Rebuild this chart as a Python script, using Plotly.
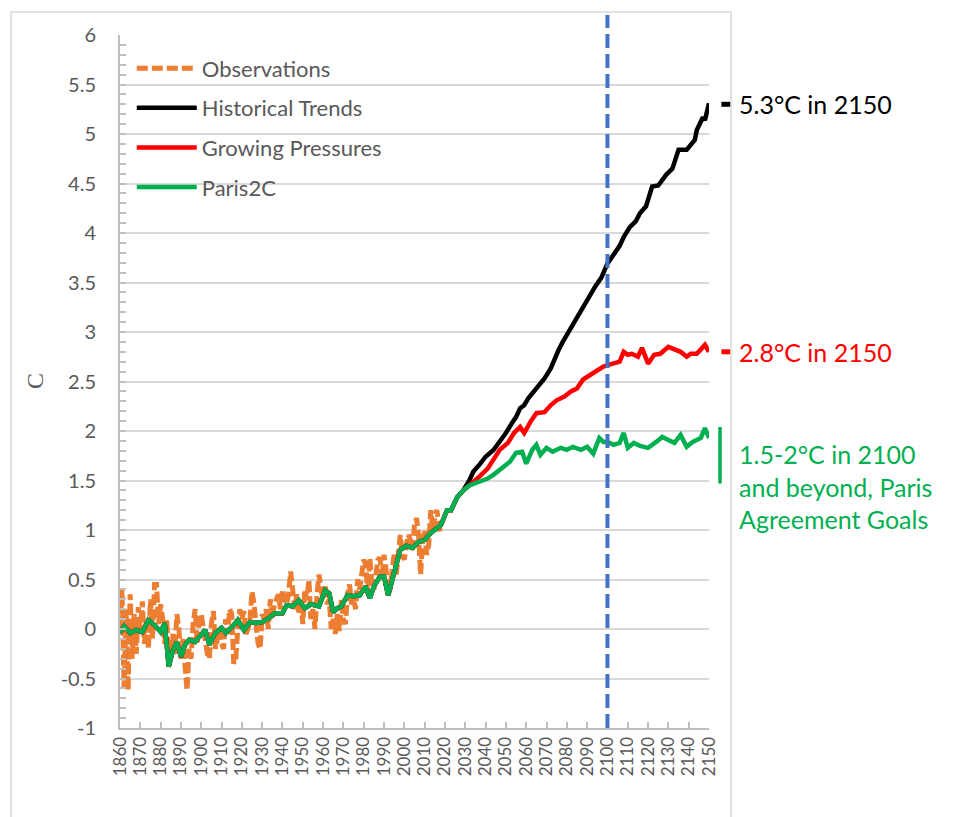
import plotly.graph_objects as go

# ---------------- data ----------------
obs_years = list(range(1860, 2019))
obs_vals = [
    0.00, 0.40, -0.60, 0.20, -0.62, 0.35, -0.30, 0.15, -0.25, 0.22,
    -0.05, 0.28, -0.15, 0.10, -0.20, 0.30, -0.10, 0.45, 0.45, 0.05,
    0.25, 0.10, -0.15, 0.10, -0.30, -0.20, -0.05, -0.25, 0.15, 0.00,
    -0.30, -0.10, -0.45, -0.62, -0.20, -0.30, 0.05, 0.20, -0.15, 0.10,
    0.15, 0.00, -0.10, -0.25, -0.30, 0.05, 0.18, -0.20, -0.10, 0.00,
    -0.15, -0.20, 0.10, -0.05, 0.20, 0.15, -0.35, -0.30, 0.00, 0.20,
    0.10, 0.18, -0.05, 0.00, 0.10, 0.38, 0.25, 0.05, -0.15, -0.20,
    0.15, 0.10, 0.20, 0.00, 0.30, 0.10, 0.25, 0.30, 0.35, 0.20,
    0.40, 0.30, 0.25, 0.35, 0.58, 0.40, 0.20, 0.35, 0.15, 0.30,
    0.05, 0.40, 0.30, 0.50, 0.10, 0.20, 0.00, 0.35, 0.55, 0.40,
    0.30, 0.45, 0.25, 0.30, 0.00, 0.10, -0.05, 0.15, -0.02, 0.30,
    0.10, 0.05, 0.35, 0.45, 0.25, 0.30, 0.20, 0.50, 0.40, 0.55,
    0.70, 0.65, 0.35, 0.72, 0.45, 0.40, 0.55, 0.70, 0.72, 0.50,
    0.75, 0.60, 0.35, 0.40, 0.60, 0.75, 0.55, 0.80, 0.95, 0.75,
    0.70, 0.85, 0.95, 0.90, 0.80, 1.05, 1.12, 0.95, 0.55, 0.90,
    1.00, 0.75, 0.85, 1.20, 1.00, 1.15, 1.20, 1.05, 0.95,
]

# shared simulated history (all scenarios identical up to ~2030)
hist_years = [1860, 1862, 1865, 1868, 1871, 1874, 1877, 1880, 1882, 1884,
              1886, 1888, 1890, 1892, 1894, 1897, 1899, 1902, 1904, 1907,
              1910, 1912, 1916, 1918, 1921, 1924, 1927, 1930, 1934, 1936,
              1940, 1942, 1945, 1948, 1951, 1954, 1958, 1961, 1963, 1965,
              1967, 1969, 1972, 1975, 1978, 1981, 1983, 1985, 1988, 1990,
              1992, 1995, 1998, 2001, 2004, 2007, 2010, 2013, 2015, 2018,
              2021, 2023, 2026, 2029]
hist_vals = [-0.04, 0.03, -0.04, -0.01, -0.03, 0.09, 0.04, -0.03, 0.06, -0.38,
             -0.22, -0.13, -0.28, -0.16, -0.11, -0.13, -0.08, -0.01, -0.16, -0.04,
             0.01, -0.04, 0.04, 0.09, -0.01, 0.07, 0.06, 0.07, 0.12, 0.16,
             0.16, 0.24, 0.23, 0.29, 0.21, 0.25, 0.23, 0.39, 0.36, 0.17,
             0.21, 0.23, 0.34, 0.33, 0.34, 0.43, 0.31, 0.43, 0.53, 0.53,
             0.34, 0.56, 0.80, 0.84, 0.82, 0.88, 0.90, 0.97, 1.00, 1.05,
             1.20, 1.20, 1.33, 1.40]

trend_years = [2032, 2034, 2037, 2040, 2044, 2047, 2050, 2053, 2055, 2057,
               2059, 2061, 2063, 2065, 2067, 2069, 2072, 2074, 2076, 2078,
               2080, 2082, 2084, 2086, 2088, 2090, 2092, 2094, 2097, 2100,
               2103, 2106, 2108, 2111, 2114, 2116, 2119, 2122, 2125, 2129,
               2132, 2135, 2139, 2143, 2144, 2147, 2148, 2150]
trend_vals = [1.50, 1.59, 1.66, 1.74, 1.81, 1.89, 1.98, 2.08, 2.14, 2.23,
              2.26, 2.33, 2.38, 2.43, 2.48, 2.53, 2.63, 2.74, 2.82, 2.90,
              2.97, 3.05, 3.13, 3.20, 3.26, 3.33, 3.40, 3.46, 3.55, 3.69,
              3.78, 3.87, 3.96, 4.06, 4.12, 4.20, 4.27, 4.47, 4.48, 4.59,
              4.65, 4.84, 4.84, 4.94, 5.04, 5.17, 5.14, 5.31]

growing_years = [2032, 2035, 2038, 2041, 2044, 2047, 2051, 2054, 2057, 2059,
                 2062, 2065, 2069, 2072, 2075, 2079, 2082, 2085, 2088, 2092,
                 2095, 2098, 2101, 2103, 2106, 2108, 2110, 2112, 2115, 2117,
                 2120, 2123, 2126, 2130, 2133, 2136, 2139, 2141, 2144, 2148,
                 2150]
growing_vals = [1.45, 1.50, 1.56, 1.62, 1.71, 1.81, 1.88, 1.98, 2.04, 1.98,
                2.09, 2.18, 2.19, 2.26, 2.31, 2.35, 2.40, 2.43, 2.52, 2.57,
                2.62, 2.65, 2.67, 2.68, 2.70, 2.80, 2.77, 2.78, 2.75, 2.84,
                2.68, 2.77, 2.78, 2.85, 2.82, 2.80, 2.75, 2.78, 2.78, 2.87,
                2.80]

paris_years = [2032, 2035, 2038, 2041, 2044, 2046, 2049, 2052, 2055, 2058,
               2060, 2063, 2065, 2067, 2070, 2073, 2077, 2080, 2083, 2087,
               2090, 2093, 2096, 2098, 2100, 2103, 2106, 2108, 2110, 2113,
               2116, 2120, 2124, 2127, 2130, 2133, 2136, 2139, 2142, 2146,
               2148, 2150]
paris_vals = [1.45, 1.47, 1.50, 1.52, 1.56, 1.59, 1.64, 1.69, 1.78, 1.79,
              1.67, 1.81, 1.86, 1.76, 1.83, 1.79, 1.83, 1.81, 1.84, 1.81,
              1.84, 1.77, 1.93, 1.89, 1.89, 1.86, 1.88, 1.98, 1.83, 1.88,
              1.85, 1.83, 1.89, 1.94, 1.91, 1.88, 1.96, 1.84, 1.89, 1.93,
              2.03, 1.93]

marker_year = 2100
end_trend = 5.3
end_growing = 2.8
paris_band = [1.47, 2.04]

x_ticks = list(range(1860, 2151, 10))
x_labels = [str(v) for v in x_ticks]
y_ticks = [-1, -0.5, 0, 0.5, 1, 1.5, 2, 2.5, 3, 3.5, 4, 4.5, 5, 5.5, 6]
y_labels = ["-1", "-0.5", "0", "0.5", "1", "1.5", "2", "2.5", "3", "3.5",
            "4", "4.5", "5", "5.5", "6"]

ORANGE = "#ED7D31"
BLACK = "#000000"
RED = "#FF0000"
GREEN = "#00B050"
BLUE = "#4472C4"
GRAY_TXT = "#595959"
AXIS = "#BFBFBF"
GRID = "#D9D9D9"
FONT = "Lato"

fig = go.Figure()
fig.add_trace(go.Scatter(x=obs_years, y=obs_vals, mode="lines", name="Observations",
                         legendgroup="a",
                         line=dict(color=ORANGE, width=5, dash="11px,4px")))
fig.add_trace(go.Scatter(x=hist_years + trend_years, y=hist_vals + trend_vals,
                         mode="lines", name="Historical Trends", legendgroup="b",
                         line=dict(color=BLACK, width=4.5)))
fig.add_trace(go.Scatter(x=hist_years + growing_years, y=hist_vals + growing_vals,
                         mode="lines", name="Growing Pressures", legendgroup="c",
                         line=dict(color=RED, width=4.5)))
fig.add_trace(go.Scatter(x=hist_years + paris_years, y=hist_vals + paris_vals,
                         mode="lines", name="Paris2C", legendgroup="d",
                         line=dict(color=GREEN, width=4.5)))

# outer frame
fig.add_shape(type="rect", xref="paper", yref="paper", x0=-0.185, x1=1.0374,
              y0=-0.2, y1=1.0332, line=dict(color=GRID, width=1.5), layer="below")
# 2100 marker
fig.add_shape(type="line", xref="x", yref="paper", x0=marker_year, x1=marker_year,
              y0=0, y1=1.029, line=dict(color=BLUE, width=4, dash="14px,6px"))
# end markers
fig.add_shape(type="line", xref="paper", yref="y", x0=1.021, x1=1.036,
              y0=end_trend, y1=end_trend, line=dict(color=BLACK, width=5))
fig.add_shape(type="line", xref="paper", yref="y", x0=1.021, x1=1.036,
              y0=end_growing, y1=end_growing, line=dict(color=RED, width=5))
fig.add_shape(type="line", xref="paper", yref="y", x0=1.0187, x1=1.0187,
              y0=paris_band[0], y1=paris_band[1], line=dict(color=GREEN, width=3.5))

fig.add_annotation(xref="paper", yref="y", x=1.0475, y=end_trend, xanchor="left",
                   yanchor="middle", showarrow=False, text="5.3°C in 2150",
                   font=dict(family=FONT, size=25, color=BLACK))
fig.add_annotation(xref="paper", yref="y", x=1.0475, y=end_growing, xanchor="left",
                   yanchor="middle", showarrow=False, text="2.8°C in 2150",
                   font=dict(family=FONT, size=25, color=RED))
fig.add_annotation(xref="paper", yref="y", x=1.0475, y=1.44, xanchor="left",
                   yanchor="middle", showarrow=False, align="left",
                   text="1.5-2°C in 2100<br>and beyond, Paris<br>Agreement Goals",
                   font=dict(family=FONT, size=25, color=GREEN))
fig.add_annotation(xref="paper", yref="paper", x=-0.145, y=0.5, textangle=-90,
                   xanchor="center", yanchor="middle",
                   showarrow=False, text="C",
                   font=dict(family="Liberation Serif", size=24, color=GRAY_TXT))

fig.update_layout(
    width=956, height=817,
    margin=dict(l=120, r=247, t=35, b=89),
    plot_bgcolor="white", paper_bgcolor="white",
    font=dict(family=FONT, color=GRAY_TXT),
    showlegend=True,
    legend=dict(x=0.02, y=0.982, xanchor="left", yanchor="top",
                bgcolor="rgba(0,0,0,0)", traceorder="grouped", tracegroupgap=8,
                itemwidth=60, font=dict(family=FONT, size=22, color=GRAY_TXT)),
)
fig.update_xaxes(range=[1860, 2150], tickmode="array", tickvals=x_ticks,
                 ticktext=x_labels, tickangle=-90, ticks="inside", ticklen=6,
                 tickcolor=AXIS, tickwidth=1.5, showline=True, linecolor=AXIS,
                 linewidth=2, showgrid=False, zeroline=False,
                 tickfont=dict(family=FONT, size=17, color=GRAY_TXT))
fig.update_yaxes(range=[-1, 6], tickmode="array", tickvals=y_ticks, ticktext=y_labels,
                 ticks="inside", ticklen=6, tickcolor=AXIS, tickwidth=1.5,
                 minor=dict(dtick=0.1, tick0=0, ticks="inside", ticklen=6,
                            tickcolor=AXIS, tickwidth=1.5, showgrid=False),
                 showline=True, linecolor=AXIS, linewidth=2,
                 showgrid=True, gridcolor=GRID, gridwidth=1.5, zeroline=False,
                 ticklabelstandoff=18,
                 tickfont=dict(family=FONT, size=20, color=GRAY_TXT))

fig.write_html("out.html")
